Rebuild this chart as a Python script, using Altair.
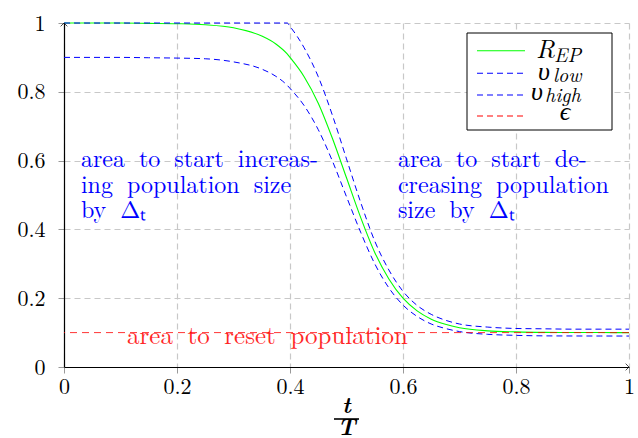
import altair as alt
import pandas as pd

# ---- data ----
t_vals = [0.0, 0.05, 0.1, 0.15, 0.2, 0.25, 0.3, 0.35, 0.375, 0.395, 0.4, 0.425, 0.45,
          0.475, 0.5, 0.525, 0.55, 0.575, 0.6, 0.625, 0.65, 0.675, 0.7, 0.75, 0.8,
          0.85, 0.9, 0.95, 1.0]
r_ep = [1.000, 1.000, 1.000, 0.999, 0.998, 0.995, 0.986, 0.962, 0.939, 0.910, 0.900,
        0.844, 0.767, 0.665, 0.550, 0.435, 0.333, 0.256, 0.200, 0.163, 0.139, 0.124,
        0.114, 0.105, 0.102, 0.1006, 0.1002, 0.1001, 0.100]
v_low = [0.900, 0.900, 0.900, 0.899, 0.898, 0.896, 0.887, 0.866, 0.845, 0.819, 0.810,
         0.760, 0.690, 0.599, 0.495, 0.392, 0.300, 0.230, 0.180, 0.147, 0.125, 0.112,
         0.103, 0.095, 0.092, 0.0905, 0.0902, 0.0901, 0.090]
v_high = [1.0, 1.0, 1.0, 1.0, 1.0, 1.0, 1.0, 1.0, 1.0, 1.0, 0.990, 0.928, 0.844,
          0.732, 0.605, 0.479, 0.366, 0.282, 0.220, 0.179, 0.153, 0.136, 0.125,
          0.116, 0.112, 0.111, 0.110, 0.110, 0.110]
epsilon = [0.1]

x_ticks = [0, 0.2, 0.4, 0.6, 0.8, 1.0]
y_ticks = [0, 0.2, 0.4, 0.6, 0.8, 1.0]

left_text = ["area to start increas-", "ing population size", "by Δₜ"]
right_text = ["area to start de-", "creasing population", "size by Δₜ"]
reset_text = ["area to reset population"]
text_rows_y = [0.582, 0.507, 0.432]

FONT = "Latin Modern Roman"
GREEK = "Liberation Serif"
BLUE = "#0000ff"
GREEN = "#00ff00"
RED = "#ff0000"

def spread(s):
    # widen word gaps a little, as in the justified text of the reference
    return s.replace(" ", " \u2005")

df = pd.DataFrame({"t": t_vals, "R": r_ep, "vlow": v_low, "vhigh": v_high})

xscale = alt.Scale(domain=[0, 1], nice=False)
yscale = alt.Scale(domain=[0, 1], nice=False)
xaxis = alt.Axis(values=x_ticks, format="~g", title=None, grid=True, gridDash=[6, 4],
                 gridColor="#c8c8c8", gridWidth=1.2, domainColor="black", domainWidth=1.2,
                 tickColor="#999999", tickSize=6, labelFont=FONT, labelFontSize=22,
                 labelColor="black", labelPadding=3, labelFlush=False)
yaxis = alt.Axis(values=y_ticks, format="~g", title=None, grid=True, gridDash=[6, 4],
                 gridColor="#c8c8c8", gridWidth=1.2, domainColor="black", domainWidth=1.2,
                 tickColor="#999999", tickSize=6, labelFont=FONT, labelFontSize=22,
                 labelColor="black", labelPadding=13, labelFlush=False)

X = alt.X("t:Q", scale=xscale, axis=xaxis)

def yenc(field):
    return alt.Y(f"{field}:Q", scale=yscale, axis=yaxis)

base = alt.Chart(df)
g_line = base.mark_line(color=GREEN, strokeWidth=1.1, interpolate="monotone").encode(x=X, y=yenc("R"))
low_line = base.mark_line(color=BLUE, strokeWidth=1, strokeDash=[6, 4],
                          interpolate="monotone").encode(x=X, y=yenc("vlow"))
high_line = base.mark_line(color=BLUE, strokeWidth=1, strokeDash=[6, 4],
                           interpolate="monotone").encode(x=X, y=yenc("vhigh"))
eps_line = alt.Chart(pd.DataFrame({"e": epsilon})).mark_rule(
    color=RED, strokeWidth=1, strokeDash=[7, 5], opacity=0.8).encode(y=alt.Y("e:Q", scale=yscale, axis=yaxis))

# arrowheads at axis ends
arr_up = alt.Chart(pd.DataFrame({"t": [0.0], "v": [1.0]})).mark_point(
    shape="M-1,1L0,0L1,1", size=45, filled=False, color="black", strokeWidth=1, clip=False
).encode(x=X, y=alt.Y("v:Q", scale=yscale, axis=yaxis))
arr_right = alt.Chart(pd.DataFrame({"t": [1.0], "v": [0.0]})).mark_point(
    shape="M-1,-1L0,0L-1,1", size=45, filled=False, color="black", strokeWidth=1, clip=False
).encode(x=X, y=alt.Y("v:Q", scale=yscale, axis=yaxis))

# annotations
ann_df = pd.DataFrame({
    "t": [0.030] * 3 + [0.591] * 3,
    "v": text_rows_y * 2,
    "txt": [spread(s) for s in left_text + right_text],
})
ann = alt.Chart(ann_df).mark_text(align="left", baseline="alphabetic", font=FONT,
                                   fontSize=24, color=BLUE).encode(
    x=X, y=alt.Y("v:Q", scale=yscale, axis=yaxis), text="txt:N")
reset_df = pd.DataFrame({"t": [0.360], "v": [0.067], "txt": [spread(s) for s in reset_text]})
reset = alt.Chart(reset_df).mark_text(align="center", baseline="alphabetic", font=FONT,
                                      fontSize=25, color=RED, opacity=0.85).encode(
    x=X, y=alt.Y("v:Q", scale=yscale, axis=yaxis), text="txt:N")

# x-axis title as a fraction t/T
one = pd.DataFrame({"t": [0.5]})
t_num = alt.Chart(one).mark_text(text="t", font=FONT, fontSize=23, fontStyle="italic",
                                 fontWeight="bold", baseline="alphabetic").encode(
    x=X, y=alt.value(390))
t_bar = alt.Chart(one).mark_rule(color="black", strokeWidth=1.6).encode(
    x=alt.value(270), x2=alt.value(295), y=alt.value(396))
t_den = alt.Chart(one).mark_text(text="T", font=FONT, fontSize=23, fontStyle="italic",
                                 fontWeight="bold", baseline="alphabetic").encode(
    x=X, y=alt.value(412))

# legend (drawn inside the plot, top right)
lg = pd.DataFrame({"a": [0]})
lg_box = alt.Chart(lg).mark_rect(fill="white", stroke="black", strokeWidth=1).encode(
    x=alt.value(403), x2=alt.value(548), y=alt.value(10), y2=alt.value(107))
legend_layers = [lg_box]
rows = [(27.7, GREEN, None), (50.3, BLUE, [6, 4]), (72.0, BLUE, [6, 4]), (93.0, RED, [6, 4])]
for yy, col, dash in rows:
    kw = dict(color=col, strokeWidth=1.1)
    if dash:
        kw["strokeDash"] = dash
    legend_layers.append(alt.Chart(lg).mark_rule(**kw).encode(
        x=alt.value(413), x2=alt.value(461), y=alt.value(yy)))

def ltxt(s, x, y, size, align="left", font=FONT):
    return alt.Chart(lg).mark_text(text=s, font=font, fontSize=size, fontStyle="italic",
                                   align=align, baseline="alphabetic", color="black").encode(
        x=alt.value(x), y=alt.value(y))

legend_layers += [
    ltxt("R", 472, 35, 26), ltxt("EP", 490, 39, 20),
    ltxt("υ", 474, 57, 26, font=GREEK), ltxt("low", 489, 59, 20),
    ltxt("υ", 467, 77, 26, font=GREEK), ltxt("high", 481, 79, 20),
    ltxt("ϵ", 501, 97, 26, align="center", font=GREEK),
]

chart = alt.layer(
    g_line, low_line, high_line, eps_line, ann, reset, arr_up, arr_right,
    t_num, t_bar, t_den, *legend_layers
).properties(
    width=565, height=344,
    autosize=alt.AutoSizeParams(type="none"),
    padding={"left": 64, "top": 23, "right": 9, "bottom": 71},
    background="white",
).configure_view(stroke=None)

chart.save("out.html", embed_options={"renderer": "svg", "actions": False})
